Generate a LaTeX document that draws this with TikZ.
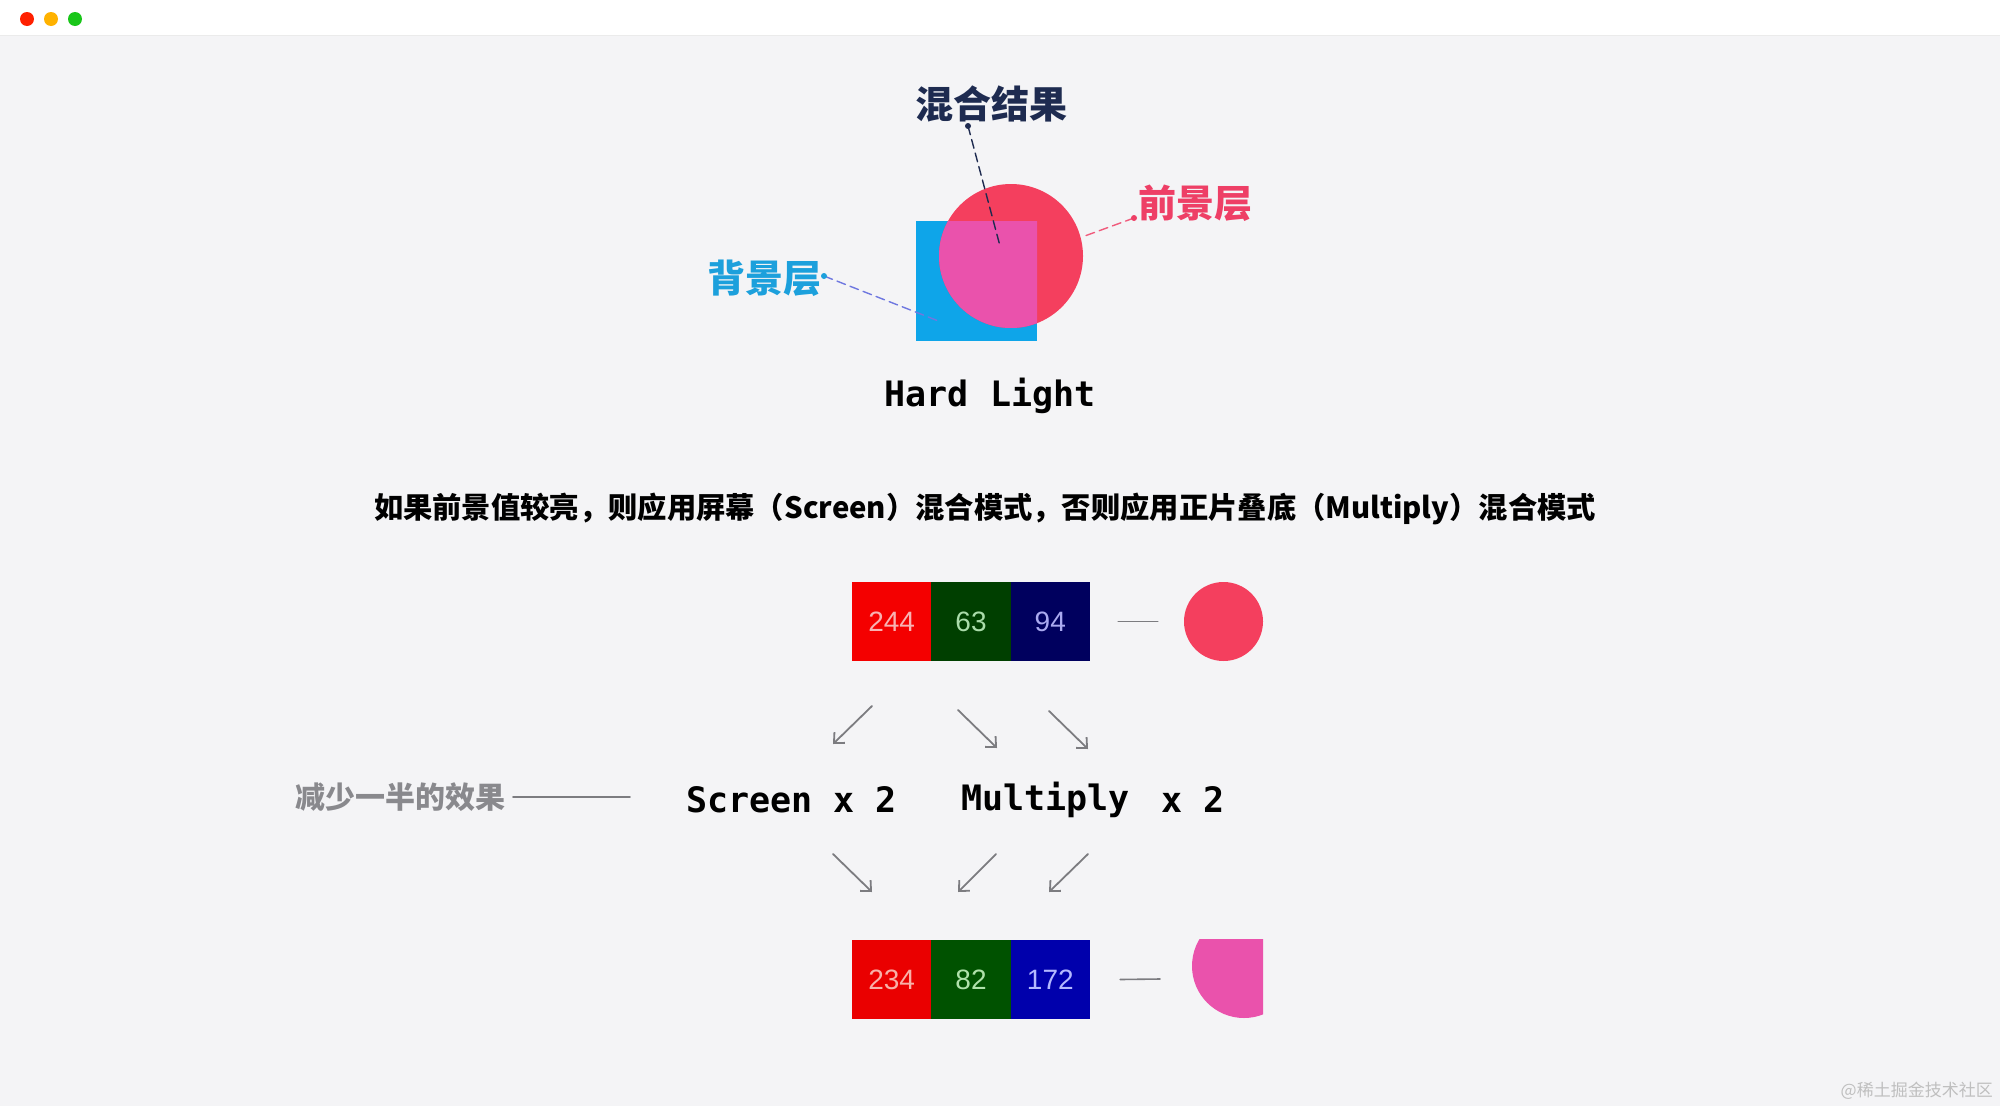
\documentclass[tikz,border=0pt]{standalone}
\usepackage{fontspec}
\setmainfont{Liberation Sans}
\newfontfamily\cjk{Noto Sans CJK SC}
\newfontfamily\codefont{DejaVu Sans Mono}
\usetikzlibrary{arrows.meta}

\definecolor{pagebg}{HTML}{F4F4F6}
\definecolor{skyblue}{RGB}{14,165,233}
\definecolor{rosered}{RGB}{244,63,94}
\definecolor{blendpink}{RGB}{234,82,172}
\definecolor{navytext}{HTML}{1E2B50}
\definecolor{fglabel}{HTML}{EE3F66}
\definecolor{bglabel}{HTML}{1CA0DC}
\definecolor{bgleader}{HTML}{6F78E0}
\definecolor{arrowgray}{HTML}{7C7C80}

\tikzset{
  cell/.style={minimum width=79.3pt, minimum height=79pt, inner sep=0pt,
    font=\fontsize{28}{28}\selectfont},
  codelabel/.style={font=\codefont\bfseries\fontsize{35}{35}\selectfont, inner sep=0pt},
  leader/.style={dashed, dash pattern=on 9pt off 5pt, line width=1.4pt},
  arr/.style={draw=arrowgray, line width=1.8pt, -{Straight Barb[length=8pt,width=15pt]}},
}

\begin{document}
\begin{tikzpicture}[x=1pt, y=-1pt, line cap=round, line join=round]
  % page and window bar
  \fill[pagebg] (0,0) rectangle (2000,1106);
  \useasboundingbox (0,0) rectangle (2000,1106);
  \fill[white] (0,0) rectangle (2000,35);
  \draw[black!8, line width=1pt] (0,35) -- (2000,35);
  \fill[red!75!orange] (27,19) circle (7);
  \fill[orange!60!yellow] (51,19) circle (7);
  \fill[green!75!black!90] (75,19) circle (7);

  % hard light sample
  \fill[skyblue] (916,221) rectangle (1037,341);
  \fill[rosered] (1011,256) circle (72);
  \begin{scope}
    \clip (916,221) rectangle (1037,341);
    \fill[blendpink] (1011,256) circle (72);
  \end{scope}

  % labels with leaders
  \node[font=\cjk\bfseries\fontsize{38}{38}\selectfont, text=navytext] (mixlabel) at (991,104) {混合结果};
  \node[font=\cjk\bfseries\fontsize{38}{38}\selectfont, text=fglabel] (fglabel) at (1195,203) {前景层};
  \node[font=\cjk\bfseries\fontsize{38}{38}\selectfont, text=bglabel] (bglabel) at (764,278) {背景层};
  \coordinate (mixdot) at (968,126);
  \coordinate (mixend) at (1000,246);
  \coordinate (fgdot) at (1134,218);
  \coordinate (fgend) at (1082,237);
  \coordinate (bgdot) at (824,276);
  \coordinate (bgend) at (941,322);
  \draw[leader, navytext] (mixdot) -- (mixend);
  \fill[navytext] (mixdot) circle (3);
  \draw[leader, fglabel!85!white] (fgdot) -- (fgend);
  \fill[fglabel] (fgdot) circle (3);
  \draw[leader, bgleader] (bgdot) -- (bgend);
  \fill[bglabel] (bgdot) circle (3);

  \node[codelabel] (modename) at (990,396) {Hard Light};

  % rule
  \node[font=\cjk\bfseries\fontsize{29.3}{29.3}\selectfont] (rule) at (985,509)
    {如果前景值较亮，则应用屏幕（Screen）混合模式，否则应用正片叠底（Multiply）混合模式};

  % foreground colour
  \node[cell, fill={rgb,255:red,244;green,0;blue,0}, text={rgb,255:red,248;green,178;blue,178}] (r244) at (891.7,621.5) {244};
  \node[cell, fill={rgb,255:red,0;green,63;blue,0}, text={rgb,255:red,170;green,220;blue,170}] (g63) at (971,621.5) {63};
  \node[cell, fill={rgb,255:red,0;green,0;blue,94}, text={rgb,255:red,170;green,170;blue,240}] (b94) at (1050.3,621.5) {94};
  \node[circle, fill=rosered, minimum size=79pt, inner sep=0pt] (fgdisc) at (1223.5,621.5) {};
  \draw[arrowgray, line width=1.6pt] ([xshift=28]b94.east) -- ([xshift=-26]fgdisc.west);

  % arrows down to the operations
  \coordinate (a1) at (872,706); \coordinate (a1e) at (833,744);
  \coordinate (a2) at (958,710); \coordinate (a2e) at (997,748);
  \coordinate (a3) at (1049,711); \coordinate (a3e) at (1088,749);
  \draw[arr] (a1) -- (a1e);
  \draw[arr] (a2) -- (a2e);
  \draw[arr] (a3) -- (a3e);

  \node[codelabel, anchor=west] (screen) at (686,800) {Screen x 2};
  \node[codelabel, anchor=west] (multiply) at (961,800) {Multiply};
  \node[codelabel, anchor=west] (mtimes) at (1161,800) {x 2};

  \node[font=\cjk\bfseries\fontsize{30}{30}\selectfont, text=arrowgray!90!white, anchor=east, inner sep=0pt] (halfnote) at (506,797) {减少一半的效果};
  \draw[arrowgray, line width=1.6pt] ([xshift=7]halfnote.east) -- ++(117,0);

  % arrows down to the result
  \coordinate (c1) at (833,854); \coordinate (c1e) at (872,892);
  \coordinate (c2) at (996,854); \coordinate (c2e) at (958,892);
  \coordinate (c3) at (1088,854); \coordinate (c3e) at (1049,892);
  \draw[arr] (c1) -- (c1e);
  \draw[arr] (c2) -- (c2e);
  \draw[arr] (c3) -- (c3e);

  % result colour
  \node[cell, fill={rgb,255:red,234;green,0;blue,0}, text={rgb,255:red,248;green,176;blue,168}] (r234) at (891.7,979.5) {234};
  \node[cell, fill={rgb,255:red,0;green,82;blue,0}, text={rgb,255:red,175;green,225;blue,170}] (g82) at (971,979.5) {82};
  \node[cell, fill={rgb,255:red,0;green,0;blue,172}, text={rgb,255:red,180;green,185;blue,255}] (b172) at (1050.3,979.5) {172};
  \begin{scope}
    \clip (1180,939) rectangle (1263,1030);
    \fill[blendpink] (1244,966) circle (52);
  \end{scope}
  \coordinate (resdot) at (1191,979);
  \draw[arrowgray, line width=1.6pt] ([xshift=30]b172.east) -- ([xshift=-31]resdot);

  \node[font=\cjk\fontsize{17}{17}\selectfont, text=black!25, anchor=east, inner sep=0pt] (mark) at (1993,1091) {@稀土掘金技术社区};
\end{tikzpicture}
\end{document}
